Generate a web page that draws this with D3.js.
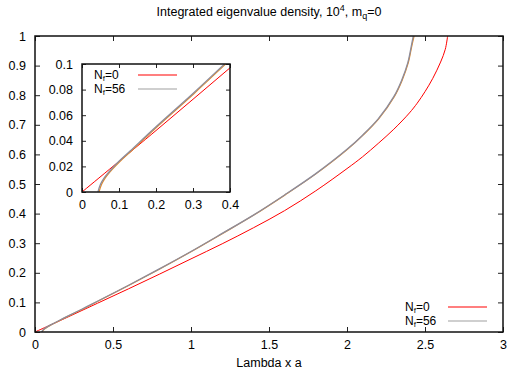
<!DOCTYPE html>
<html>
<head>
<meta charset="utf-8">
<script src="https://cdn.jsdelivr.net/npm/d3@7"></script>
<style>
  body { margin: 0; background: #fff; }
  svg text { font-family: "Liberation Sans", Arial, sans-serif; fill: #000; }
</style>
</head>
<body>
<script>
// N_f = 0 (red)
var lam0 = [0, 0.2, 0.4, 0.6, 0.8, 1.0, 1.2, 1.4, 1.6, 1.8, 2.0, 2.1, 2.2, 2.3, 2.4, 2.45, 2.5, 2.55, 2.6, 2.63, 2.645];
var n0   = [0, 0.048, 0.097, 0.146, 0.196, 0.247, 0.298, 0.352, 0.41, 0.477, 0.552, 0.592, 0.637, 0.685, 0.74, 0.773, 0.812, 0.857, 0.912, 0.955, 1.0];

// N_f = 56 (grey)
var lam56 = [0.043, 0.05, 0.06, 0.08, 0.1, 0.13, 0.2, 0.3, 0.4, 0.6, 0.8, 1.0, 1.2, 1.4, 1.6, 1.8, 2.0, 2.1, 2.2, 2.3, 2.35, 2.39, 2.41, 2.425];
var n56   = [0, 0.006, 0.011, 0.018, 0.024, 0.032, 0.051, 0.077, 0.104, 0.158, 0.214, 0.272, 0.333, 0.395, 0.463, 0.535, 0.617, 0.665, 0.72, 0.795, 0.85, 0.91, 0.96, 1.0];

// unlabelled curve lying under the grey one (orange)
var lamOr = [0.046, 0.053, 0.063, 0.083, 0.103, 0.133, 0.203, 0.303, 0.403, 0.603, 0.803, 1.003, 1.203, 1.403, 1.603, 1.803, 2.003, 2.103, 2.203, 2.303, 2.353, 2.393, 2.413, 2.43];
var nOr   = n56;

var xTicks = [0, 0.5, 1, 1.5, 2, 2.5, 3];
var yTicks = [0, 0.1, 0.2, 0.3, 0.4, 0.5, 0.6, 0.7, 0.8, 0.9, 1];
var xTicksIn = [0, 0.1, 0.2, 0.3, 0.4];
var yTicksIn = [0, 0.02, 0.04, 0.06, 0.08, 0.1];

var W = 509, H = 372;
var svg = d3.select("body").append("svg").attr("width", W).attr("height", H);

function pts(xs, ys) {
  return xs.map(function (d, i) { return [d, ys[i]]; });
}

function panel(g, x, y, xt, yt, tickLen, fmt, clipId) {
  var x0 = x.range()[0], x1 = x.range()[1];
  var y0 = y.range()[0], y1 = y.range()[1];
  g.append("rect").attr("x", x0).attr("y", y1)
    .attr("width", x1 - x0).attr("height", y0 - y1).attr("fill", "#fff");
  g.append("clipPath").attr("id", clipId).append("rect")
    .attr("x", x0).attr("y", y1).attr("width", x1 - x0).attr("height", y0 - y1);

  // axes with inward ticks, mirrored
  g.append("g").attr("transform", "translate(0," + y0 + ")")
    .call(d3.axisBottom(x).tickValues(xt).tickSizeInner(-tickLen).tickSizeOuter(0).tickPadding(8).tickFormat(fmt));
  g.append("g").attr("transform", "translate(0," + y1 + ")")
    .call(d3.axisTop(x).tickValues(xt).tickSizeInner(-tickLen).tickSizeOuter(0).tickFormat(""));
  g.append("g").attr("transform", "translate(" + x0 + ",0)")
    .call(d3.axisLeft(y).tickValues(yt).tickSizeInner(-tickLen).tickSizeOuter(0).tickPadding(9).tickFormat(fmt));
  g.append("g").attr("transform", "translate(" + x1 + ",0)")
    .call(d3.axisRight(y).tickValues(yt).tickSizeInner(-tickLen).tickSizeOuter(0).tickFormat(""));
  g.selectAll(".domain").remove();
  g.selectAll(".tick line").attr("stroke", "#222").attr("stroke-width", 1);
  g.selectAll(".tick text").attr("font-size", 12.5).attr("fill", "#000");

  var line = d3.line().x(function (d) { return x(d[0]); }).y(function (d) { return y(d[1]); })
    .curve(d3.curveCatmullRom.alpha(0.5));
  var cg = g.append("g").attr("clip-path", "url(#" + clipId + ")");
  cg.append("path").attr("d", line(pts(lam0, n0))).attr("fill", "none").attr("stroke", "#ff0000").attr("stroke-width", 1);
  cg.append("path").attr("d", line(pts(lamOr, nOr))).attr("fill", "none").attr("stroke", "#e08a2c").attr("stroke-width", 1.2);
  cg.append("path").attr("d", line(pts(lam56, n56))).attr("fill", "none").attr("stroke", "#8c8c9c").attr("stroke-width", 1.3);

  g.append("rect").attr("x", x0).attr("y", y1)
    .attr("width", x1 - x0).attr("height", y0 - y1)
    .attr("fill", "none").attr("stroke", "#111").attr("stroke-width", 1.5);
}

function nf(g, xl, yb, val) {
  var t = g.append("text").attr("x", xl).attr("y", yb).attr("font-size", 12);
  t.append("tspan").text("N");
  t.append("tspan").attr("dy", 2).attr("font-size", 8).text("f");
  t.append("tspan").attr("dy", -2).text("=" + val);
}

function legend(g, xl, y0, dy, lx0, lx1) {
  var items = [["0", "#ff0000"], ["56", "#a0a0a0"]];
  items.forEach(function (it, i) {
    nf(g, xl, y0 + i * dy + 4, it[0]);
    g.append("line").attr("x1", lx0).attr("x2", lx1)
      .attr("y1", y0 + i * dy).attr("y2", y0 + i * dy)
      .attr("stroke", it[1]).attr("stroke-width", 1.2);
  });
}

// main plot
var x = d3.scaleLinear().domain([0, 3]).range([35, 503]);
var y = d3.scaleLinear().domain([0, 1]).range([332, 36]);
var fmt = function (d) { return String(+d.toFixed(2)); };
var gm = svg.append("g");
panel(gm, x, y, xTicks, yTicks, 5, fmt, "clipMain");
legend(gm, 405, 307, 14, 448, 487);

// inset
var xi = d3.scaleLinear().domain([0, 0.4]).range([82, 230]);
var yi = d3.scaleLinear().domain([0, 0.1]).range([192, 64]);
var gi = svg.append("g");
panel(gi, xi, yi, xTicksIn, yTicksIn, 4, fmt, "clipIn");
legend(gi, 94, 75, 14, 138, 177);

// title
var tt = svg.append("text").attr("x", 269).attr("y", 16).attr("text-anchor", "middle").attr("font-size", 12.5);
tt.append("tspan").text("Integrated eigenvalue density, 10");
tt.append("tspan").attr("dy", -5).attr("font-size", 9).text("4");
tt.append("tspan").attr("dy", 5).text(", m");
tt.append("tspan").attr("dy", 3).attr("font-size", 9).text("q");
tt.append("tspan").attr("dy", -3).text("=0");

// x label
svg.append("text").attr("x", 269).attr("y", 367).attr("text-anchor", "middle").attr("font-size", 12.5).text("Lambda x a");
</script>
</body>
</html>
